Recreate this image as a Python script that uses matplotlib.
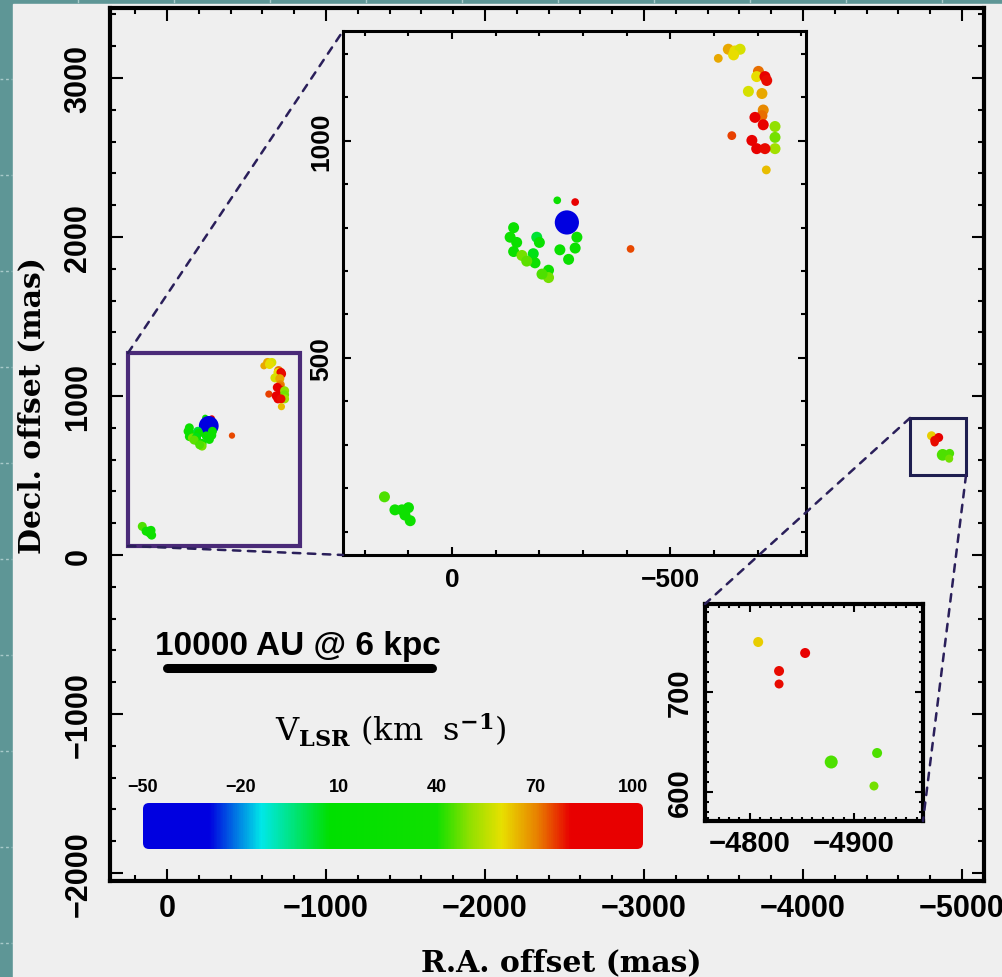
import numpy as np
import matplotlib
matplotlib.use('Agg')
import matplotlib.pyplot as plt
from matplotlib.colors import LinearSegmentedColormap, Normalize
from matplotlib.patches import Rectangle, FancyBboxPatch, ConnectionPatch
from matplotlib.lines import Line2D
from matplotlib.ticker import MultipleLocator

plt.rcParams['font.family'] = ['Liberation Sans', 'DejaVu Sans']
plt.rcParams['font.weight'] = 'bold'
plt.rcParams['mathtext.fontset'] = 'dejavuserif'

# --- maser spots, central field (R.A. / Decl. offsets in mas, V_LSR in km/s)
ra_in = [-610, -633, -648, -660, -645, -702, -698, -717, -721, -679,
         -710, -713, -710, -694, -713, -740, -740, -740, -641, -687,
         -698, -717, -720, -241, -282, -263, -141, -133, -148, -141,
         -160, -194, -200, -186, -190, -171, -221, -221, -206, -286,
         -282, -247, -267, -409, 155, 131, 115, 100, 108, 96]
dec_in = [1190, 1211, 1207, 1211, 1198, 1160, 1148, 1148, 1139, 1114,
          1109, 1071, 1058, 1054, 1037, 1033, 1008, 982, 1012, 1001,
          982, 982, 933, 863, 859, 812, 800, 778, 766, 745,
          736, 778, 766, 740, 719, 723, 702, 685, 693, 778,
          753, 749, 727, 751, 180, 150, 150, 155, 138, 125]
vel_in = [66, 66, 60, 58, 60, 72, 60, 88, 80, 58,
          66, 70, 72, 90, 88, 50, 48, 52, 76, 90,
          82, 80, 64, 30, 92, -48, 30, 35, 30, 30,
          48, 2, 25, 5, 30, 46, 35, 48, 45, 30,
          30, 28, 30, 75, 45, 35, 35, 30, 35, 35]
flux_in = [0.8, 1, 1, 1, 1, 1, 1, 1, 1, 1,
           1, 1, 1, 1, 1, 1, 1, 1, 0.8, 1,
           1, 1, 0.8, 0.7, 0.7, 2.2, 1, 1, 1, 1,
           1, 1, 1, 1, 1, 1, 1, 1, 1, 1,
           1, 1, 1, 0.7, 1, 1, 1, 1, 1, 1]

# --- maser spots, western field
ra_out = [-4808, -4853, -4828, -4828, -4878, -4922, -4919]
dec_out = [750, 739, 721, 708, 630, 639, 606]
vel_out = [62, 86, 80, 80, 45, 45, 48]
flux_out = [1, 1, 1, 0.9, 1.3, 1, 0.9]

# colour scale
vmin, vmax = -50, 103
cbar_ticks = [-50, -20, 10, 40, 70, 100]
cmap_nodes = [(-50, '#0000e0'), (-30, '#0000e0'), (-14, '#00e8e8'), (7, '#00e000'),
              (40, '#10e000'), (50, '#90e000'), (60, '#e8e000'), (71, '#e88000'),
              (81, '#e80000'), (103, '#e80000')]

# scale bar
scale_au = 10000
dist_kpc = 6
bar_mas = scale_au / (dist_kpc * 1000.0) * 1000.0

# zoom boxes in the main panel
box1 = (245, -836, 57, 1270)
box2 = (-4673, -5025, 503, 862)

cmap = LinearSegmentedColormap.from_list(
    'vlsr', [((v - vmin) / (vmax - vmin), c) for v, c in cmap_nodes])
norm = Normalize(vmin, vmax)

W, H = 1003, 978
fig = plt.figure(figsize=(W / 100, H / 100), dpi=100, facecolor='#5e9696')
fig.add_artist(Rectangle((13 / W, 0), 1, 1 - 5 / H, transform=fig.transFigure,
                         color='#efefef', zorder=-10))
# slide grid marks in the teal margin
for yy in np.arange(80, H, 96):
    fig.add_artist(Line2D([0, 12 / W], [1 - yy / H] * 2, transform=fig.transFigure,
                          color='#a9caca', lw=1, ls=(0, (2, 2)), zorder=-9))
for xx in np.arange(78, W, 96):
    fig.add_artist(Line2D([xx / W] * 2, [1, 1 - 3 / H], transform=fig.transFigure,
                          color='#a9caca', lw=1, zorder=-9))


def px_ax(l, t, r, b):
    return fig.add_axes([l / W, 1 - b / H, (r - l) / W, (b - t) / H])


def style(a, major, minor, spw, maj_len, min_len, fs, xpad, ypad):
    for axis in (a.xaxis, a.yaxis):
        axis.set_major_locator(MultipleLocator(major))
        axis.set_minor_locator(MultipleLocator(minor))
    a.tick_params(which='both', direction='in', top=True, right=True, width=1.5)
    a.tick_params(which='major', length=maj_len, labelsize=fs)
    a.tick_params(which='minor', length=min_len)
    a.tick_params(axis='x', pad=xpad)
    a.tick_params(axis='y', pad=ypad, labelrotation=90)
    for lab in a.get_yticklabels():
        lab.set_va('center')
    for s in a.spines.values():
        s.set_linewidth(spw)
    a.set_facecolor('#efefef')


def spot_size(flux, d):
    return (0.72 * d * np.asarray(flux)) ** 2


# main panel
ax = px_ax(110, 9, 984, 882)
ax.set_xlim(358, -5138)
ax.set_ylim(-2050, 3440)
style(ax, 1000, 200, 3, 9, 4.5, 22, 9, 12)
ax.scatter(ra_in, dec_in, c=vel_in, cmap=cmap, norm=norm, s=spot_size(flux_in, 9),
           linewidths=0, zorder=3)
ax.scatter(ra_out, dec_out, c=vel_out, cmap=cmap, norm=norm, s=spot_size(flux_out, 9),
           linewidths=0, zorder=3)
ax.add_patch(Rectangle((box1[0], box1[2]), box1[1] - box1[0], box1[3] - box1[2],
                       fill=False, ec='#4a2a78', lw=3, zorder=4))
ax.add_patch(Rectangle((box2[0], box2[2]), box2[1] - box2[0], box2[3] - box2[2],
                       fill=False, ec='#1e1e50', lw=2.2, zorder=4))

ax.plot([0, -bar_mas], [-711, -711], color='black', lw=6.5, solid_capstyle='round')
ax.text(75, -623, f'{scale_au} AU @ {dist_kpc} kpc', fontsize=24, fontweight='bold',
        ha='left', va='baseline')

# central zoom
ax1 = px_ax(343, 32, 806, 556)
ax1.set_xlim(250, -811)
ax1.set_ylim(46, 1253)
style(ax1, 500, 100, 2.2, 6, 3.5, 19, 9, 7)
ax1.scatter(ra_in, dec_in, c=vel_in, cmap=cmap, norm=norm, s=spot_size(flux_in, 11),
            linewidths=0, zorder=3)

# western zoom
ax2 = px_ax(705, 605, 923, 822)
ax2.set_xlim(-4757, -4966)
ax2.set_ylim(571, 788)
style(ax2, 100, 10, 3, 6, 3, 21, 6, 8)
ax2.scatter(ra_out, dec_out, c=vel_out, cmap=cmap, norm=norm, s=spot_size(flux_out, 10),
            linewidths=0, zorder=3)

dash = dict(linestyle=(0, (3, 3)), lw=1.8, color='#2a1f5a', zorder=6)
for xyA, axB, xyB in [((box1[0], box1[3]), ax1, (0, 1)),
                      ((box1[0], box1[2]), ax1, (0, 0)),
                      ((box2[0], box2[3]), ax2, (0, 1)),
                      ((box2[1], box2[2]), ax2, (1, 0))]:
    fig.add_artist(ConnectionPatch(xyA=xyA, coordsA=ax.transData, xyB=xyB,
                                   coordsB=axB.transAxes, **dash))

# colour bar
cax = px_ax(143, 804, 643, 850)
grad = np.linspace(vmin, vmax, 600)[None, :]
im = cax.imshow(grad, cmap=cmap, norm=norm, extent=(vmin, vmax, 0, 1), aspect='auto')
xu = (vmax - vmin) / 500.0
yu = 1 / 46.0
rb = FancyBboxPatch((vmin, 0), vmax - vmin, 1,
                    boxstyle=f'round,pad=0,rounding_size={6 * xu}',
                    mutation_aspect=yu / xu, transform=cax.transData)
im.set_clip_path(rb)
cax.set_xlim(vmin, vmax)
cax.set_ylim(0, 1)
cax.xaxis.tick_top()
cax.set_xticks(cbar_ticks)
cax.set_yticks([])
cax.tick_params(axis='x', length=0, labelsize=13, pad=6)
for s in cax.spines.values():
    s.set_visible(False)
cax.set_facecolor('none')

fig.text(391 / W, 1 - 742 / H, r'V$_{\mathrm{LSR}}$ (km  s$^{-1}$)', family='DejaVu Serif',
         fontweight='normal', fontsize=23, ha='center', va='baseline')
fig.text(561 / W, 1 - 963 / H, 'R.A. offset (mas)', family='DejaVu Serif',
         fontsize=21.5, fontweight='bold', ha='center', va='center')
fig.text(32 / W, 1 - 405 / H, 'Decl. offset (mas)', family='DejaVu Serif',
         fontsize=21.5, fontweight='bold', ha='center', va='center', rotation=90)

fig.savefig('out.png', dpi=100, facecolor=fig.get_facecolor())
